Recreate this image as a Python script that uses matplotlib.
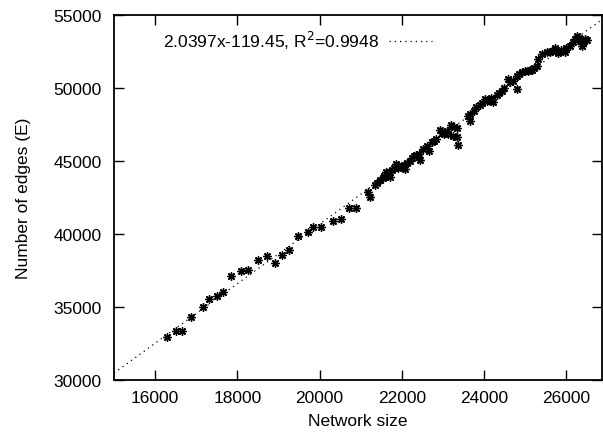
import matplotlib
matplotlib.use("Agg")
import matplotlib.pyplot as plt
import numpy as np

plt.rcParams['font.family'] = ['Liberation Sans', 'DejaVu Sans']
plt.rcParams['mathtext.fontset'] = 'custom'
plt.rcParams['mathtext.rm'] = 'Liberation Sans'

network_size = [
    16301, 16496, 16647, 16873, 17158, 17311, 17510, 17656, 17846, 18101,
    18267, 18495, 18729, 18904, 19087, 19264, 19483, 19724, 19848, 20028,
    20339, 20517, 20724, 20882, 21186, 21227, 21337, 21543, 21604, 21689,
    21721, 21867, 21903, 22066, 22078, 22193, 22290, 22414, 22443, 22606,
    22658, 22728, 22840, 22937, 23039, 23132, 23185, 23234, 23336, 23336,
    23375, 23599, 23660, 23801, 23903, 24025, 24146, 24226, 24309, 24431,
    24487, 24591, 24633, 24796, 24796, 24917, 25078, 25161, 25282, 25321,
    25404, 25526, 25647, 25727, 25808, 25971, 25995, 26173, 26255, 26335,
    26377, 26457,
    21400, 21480, 21560, 21650, 21760, 21820, 22000, 22130, 22250, 22350,
    22520, 22790, 22980, 23090, 23280, 23650, 23750, 23960, 24080, 24180,
    24370, 24700, 24850, 25000, 25120, 25220, 25600, 25880, 26100, 26220,
    26300, 26400, 26420, 26500,
]
num_edges = [
    32945, 33335, 33322, 34315, 34979, 35534, 35774, 36048, 37143, 37479,
    37534, 38239, 38479, 37993, 38561, 38917, 39842, 40157, 40458, 40458,
    40911, 41061, 41760, 41801, 42856, 42513, 43356, 43849, 44225, 44267,
    43883, 44794, 44533, 44725, 44451, 45020, 45342, 45479, 45068, 46047,
    45705, 46280, 46527, 47102, 46883, 46849, 47444, 46712, 46622, 47246,
    46075, 48081, 47759, 48677, 48835, 49246, 49129, 49020, 49520, 49814,
    49978, 50615, 50389, 50800, 49931, 51115, 51184, 51252, 51526, 51985,
    52328, 52444, 52554, 52718, 52396, 52444, 52718, 53170, 53581, 53239,
    52896, 53355,
    43500, 43700, 43950, 44000, 44350, 44500, 44650, 44850, 45200, 45400,
    45800, 46400, 46950, 47050, 47350, 48200, 48400, 49000, 49100, 49300,
    49650, 50500, 50950, 51150, 51200, 51400, 52500, 52600, 52900, 53350,
    53450, 53100, 53250, 53300,
]
fit_slope = 2.0397
fit_intercept = -119.45
fit_r2 = 0.9948
x_ticks = [16000, 18000, 20000, 22000, 24000, 26000]
y_ticks = [30000, 35000, 40000, 45000, 50000, 55000]
x_range = [15000, 26870]
y_range = [30000, 55000]

FS = 12.5

fig = plt.figure(figsize=(6.03, 4.39), dpi=100)
ax = fig.add_axes([114/603, 1-381/439, (602-114)/603, (381-16)/439])

xf = np.array(x_range, dtype=float)
ax.plot(xf, fit_slope*xf + fit_intercept, color='black', lw=0.9,
        linestyle=(0, (1, 3.2)),
        label=f"{fit_slope}x{fit_intercept}, R$^{{\\mathsf{{2}}}}$={fit_r2}")
ax.plot(network_size, num_edges, linestyle='none', marker=(8, 2, 0),
        markersize=6, markeredgewidth=1.0, color='black')

ax.set_xlim(*x_range)
ax.set_ylim(*y_range)
ax.set_xticks(x_ticks)
ax.set_yticks(y_ticks)
ax.tick_params(direction='in', length=7, width=1, top=True, right=True,
               labelsize=FS, pad=7)
ax.tick_params(axis='y', pad=9)
for s in ax.spines.values():
    s.set_linewidth(1.3)
ax.set_xlabel("Network size", fontsize=FS, labelpad=6)
ax.set_ylabel("Number of edges (E)", fontsize=FS, labelpad=16)

leg = ax.legend(loc='upper left', bbox_to_anchor=(0.075, 0.995), frameon=False,
                markerfirst=False, fontsize=FS, handlelength=2.5,
                handletextpad=0.6, borderaxespad=0.3)

fig.savefig("out.png", dpi=100)
